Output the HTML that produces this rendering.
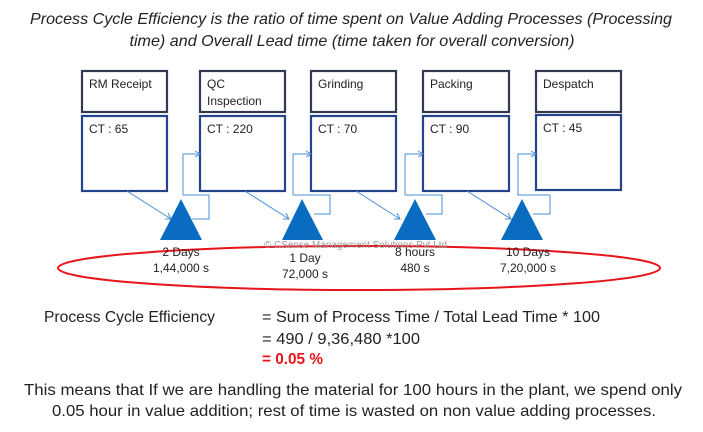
<!DOCTYPE html>
<html><head><style>html,body{margin:0;padding:0;background:#fff;}svg{display:block;}</style></head>
<body>
<svg width="703" height="432" viewBox="0 0 703 432" xmlns="http://www.w3.org/2000/svg" font-family="Liberation Sans, sans-serif">
<g font-style="italic" font-size="16" fill="#222" text-anchor="middle">
<text x="351" y="24" textLength="642" lengthAdjust="spacingAndGlyphs">Process Cycle Efficiency is the ratio of time spent on Value Adding Processes (Processing</text>
<text x="352" y="46" textLength="445" lengthAdjust="spacingAndGlyphs">time) and Overall Lead time (time taken for overall conversion)</text>
</g>
<g fill="none" stroke-width="2.2">
<g stroke="#333a4d">
<rect x="82" y="71" width="85" height="41"/><rect x="200" y="71" width="85" height="41"/><rect x="311" y="71" width="85" height="41"/><rect x="423" y="71" width="86" height="41"/><rect x="536" y="71" width="85" height="41"/>
</g>
<g stroke="#23438c">
<rect x="82" y="116" width="85" height="75"/><rect x="200" y="116" width="85" height="75"/><rect x="311" y="116" width="85" height="75"/><rect x="423" y="116" width="86" height="75"/><rect x="536" y="115" width="85" height="75"/>
</g>
</g>
<g font-size="12" fill="#222">
<text x="89" y="88">RM Receipt</text><text x="207" y="88">QC</text><text x="207" y="105">Inspection</text><text x="318" y="88">Grinding</text><text x="430" y="88">Packing</text><text x="543" y="88">Despatch</text>
<text x="89" y="133">CT : 65</text><text x="207" y="133">CT : 220</text><text x="318" y="133">CT : 70</text><text x="430" y="133">CT : 90</text><text x="543" y="132">CT : 45</text>
</g>
<g stroke="#4a8fd6" stroke-width="1" fill="none">
<path d="M127 191 L171 219 M165 219 L171 219 L168 213"/>
<path d="M245 191 L289 219 M283 219 L289 219 L286 213"/>
<path d="M356 191 L400 219 M394 219 L400 219 L397 213"/>
<path d="M467 191 L511 219 M505 219 L511 219 L508 213"/>
<path d="M192 219 H209 V195 H183 V154 H200 M195 151 L200 154 L195 157"/>
<path d="M314 214 H330 V195 H293 V154 H311 M306 151 L311 154 L306 157"/>
<path d="M426 214 H442 V195 H405 V154 H423 M418 151 L423 154 L418 157"/>
<path d="M533 214 H550 V195 H518 V154 H536 M531 151 L536 154 L531 157"/>
</g>
<g fill="#0a6cc0">
<polygon points="181,199 202,240 160,240"/><polygon points="302,199 323,240 282,240"/><polygon points="415,199 436,240 394,240"/><polygon points="522,199 543,240 501,240"/>
</g>
<ellipse cx="359" cy="268" rx="301" ry="22" fill="none" stroke="#e8141b" stroke-width="2"/>
<text x="264" y="248" font-size="10" fill="#999" textLength="183" lengthAdjust="spacingAndGlyphs">© CSense Management Solutions Pvt Ltd</text>
<g font-size="12" fill="#222" text-anchor="middle">
<text x="181" y="256">2 Days</text><text x="181" y="272">1,44,000 s</text>
<text x="305" y="262">1 Day</text><text x="305" y="278">72,000 s</text>
<text x="415" y="256">8 hours</text><text x="415" y="272">480 s</text>
<text x="528" y="256">10 Days</text><text x="528" y="272">7,20,000 s</text>
</g>
<g font-size="16" fill="#222">
<text x="44" y="322" textLength="171" lengthAdjust="spacingAndGlyphs">Process Cycle Efficiency</text>
<text x="262" y="322" textLength="338" lengthAdjust="spacingAndGlyphs">= Sum of Process Time / Total Lead Time * 100</text>
<text x="262" y="344" textLength="158" lengthAdjust="spacingAndGlyphs">= 490 / 9,36,480 *100</text>
<text x="262" y="364" fill="#e8141b" font-weight="bold" textLength="61" lengthAdjust="spacingAndGlyphs">= 0.05 %</text>
<text x="24" y="395" textLength="658" lengthAdjust="spacingAndGlyphs">This means that If we are handling the material for 100  hours in the plant, we spend only</text>
<text x="52" y="416" textLength="604" lengthAdjust="spacingAndGlyphs">0.05 hour in value addition; rest of time is wasted on non value adding processes.</text>
</g>
</svg>
</body></html>
